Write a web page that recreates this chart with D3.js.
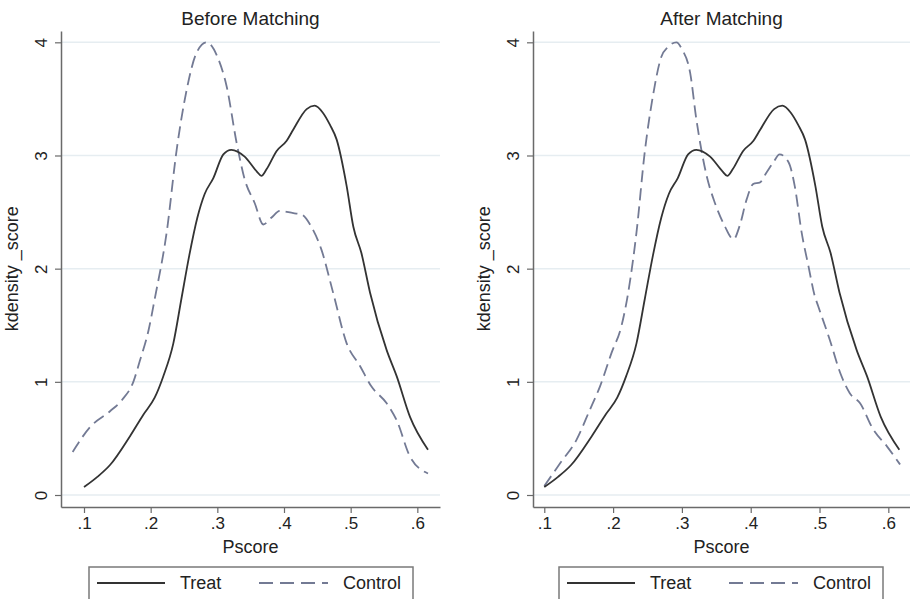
<!DOCTYPE html>
<html>
<head>
<meta charset="utf-8">
<script src="https://cdn.jsdelivr.net/npm/d3@7"></script>
<style>
  body { margin: 0; background: #fff; }
  svg { display: block; font-family: "Liberation Sans", Arial, sans-serif; }
</style>
</head>
<body>
<svg id="chart" width="910" height="599"></svg>
<script>
// kernel density of pscore
var treatX = [0.100, 0.120, 0.139, 0.169, 0.189, 0.206, 0.219, 0.234, 0.246, 0.258, 0.270, 0.281, 0.294, 0.309, 0.321, 0.341, 0.359, 0.366, 0.374, 0.389, 0.404, 0.414, 0.434, 0.446, 0.458, 0.469, 0.479, 0.494, 0.504, 0.516, 0.529, 0.554, 0.569, 0.589, 0.616];
var treatY = [0.07, 0.16, 0.265, 0.52, 0.71, 0.86, 1.05, 1.34, 1.73, 2.12, 2.45, 2.66, 2.80, 3.01, 3.05, 2.99, 2.86, 2.82, 2.88, 3.04, 3.13, 3.23, 3.41, 3.44, 3.38, 3.27, 3.14, 2.73, 2.37, 2.14, 1.79, 1.28, 1.05, 0.69, 0.40];

var ctrlBeforeX = [0.083, 0.109, 0.139, 0.157, 0.174, 0.184, 0.197, 0.206, 0.224, 0.239, 0.254, 0.269, 0.284, 0.301, 0.314, 0.329, 0.341, 0.356, 0.369, 0.381, 0.394, 0.414, 0.426, 0.441, 0.456, 0.474, 0.494, 0.514, 0.531, 0.554, 0.569, 0.589, 0.616];
var ctrlBeforeY = [0.38, 0.60, 0.74, 0.84, 1.00, 1.19, 1.46, 1.73, 2.32, 3.05, 3.58, 3.91, 4.00, 3.86, 3.61, 3.11, 2.79, 2.58, 2.39, 2.45, 2.51, 2.49, 2.48, 2.37, 2.17, 1.78, 1.34, 1.14, 0.96, 0.81, 0.66, 0.34, 0.19];

var ctrlAfterX = [0.100, 0.123, 0.147, 0.166, 0.181, 0.198, 0.212, 0.222, 0.234, 0.246, 0.258, 0.270, 0.280, 0.292, 0.300, 0.312, 0.321, 0.336, 0.348, 0.362, 0.375, 0.384, 0.394, 0.404, 0.413, 0.423, 0.433, 0.442, 0.455, 0.464, 0.474, 0.484, 0.493, 0.498, 0.515, 0.530, 0.544, 0.559, 0.578, 0.598, 0.617];
var ctrlAfterY = [0.08, 0.28, 0.49, 0.75, 0.96, 1.26, 1.49, 1.79, 2.32, 3.03, 3.53, 3.87, 3.96, 4.00, 3.94, 3.73, 3.32, 2.82, 2.58, 2.38, 2.26, 2.38, 2.61, 2.75, 2.76, 2.85, 2.94, 3.01, 2.94, 2.73, 2.32, 2.02, 1.76, 1.67, 1.37, 1.08, 0.90, 0.81, 0.58, 0.43, 0.27];

var yTicks = [0, 1, 2, 3, 4];
var xTicks = [0.1, 0.2, 0.3, 0.4, 0.5, 0.6];
var seriesNames = ["Treat", "Control"];
var titles = ["Before Matching", "After Matching"];

var svg = d3.select("#chart");
var lineColor = "#333333", dashColor = "#737a94", axisColor = "#6a6a6a";

function zip(xs, ys) {
  return xs.map(function(x, i) { return { x: x, y: ys[i] }; });
}

var panels = [
  { title: titles[0], left: 61, right: 440, xDom: [0.0655, 0.634], control: zip(ctrlBeforeX, ctrlBeforeY), legendX: 89 },
  { title: titles[1], left: 533, right: 910, xDom: [0.0836, 0.6315], control: zip(ctrlAfterX, ctrlAfterY), legendX: 559 }
];
var treat = zip(treatX, treatY);

panels.forEach(function(p) {
  var g = svg.append("g");
  var x = d3.scaleLinear().domain(p.xDom).range([p.left, p.right]);
  var y = d3.scaleLinear().domain([-0.106, 4.1]).range([507, 31]);

  // grid lines
  g.selectAll(".grid").data(yTicks).enter().append("line")
    .attr("x1", p.left).attr("x2", p.right)
    .attr("y1", function(d) { return y(d); })
    .attr("y2", function(d) { return y(d); })
    .attr("stroke", "#e6edf1")
    .attr("stroke-width", 1.5);

  // y axis
  var ya = g.append("g")
    .attr("transform", "translate(" + p.left + ",0)")
    .call(d3.axisLeft(y).tickValues(yTicks).tickSize(6).tickSizeOuter(0)
      .tickFormat(d3.format("d")));
  ya.select(".domain").attr("stroke", axisColor).attr("stroke-width", 1.5);
  ya.selectAll(".tick line").attr("stroke", axisColor).attr("stroke-width", 1.2);
  ya.selectAll(".tick text")
    .attr("font-size", 17)
    .attr("font-family", "Liberation Sans, Arial, sans-serif")
    .attr("fill", "#222")
    .attr("text-anchor", "middle")
    .attr("dy", 0)
    .attr("x", 0)
    .attr("transform", "translate(-20,0) rotate(-90)")
    .attr("y", 6);

  // x axis
  var xa = g.append("g")
    .attr("transform", "translate(0,507)")
    .call(d3.axisBottom(x).tickValues(xTicks).tickSize(6).tickPadding(4).tickSizeOuter(0)
      .tickFormat(function(d) { return d3.format(".1f")(d).replace(/^0/, ""); }));
  xa.select(".domain").attr("stroke", axisColor).attr("stroke-width", 1.5);
  xa.selectAll(".tick line").attr("stroke", axisColor).attr("stroke-width", 1.2);
  xa.selectAll(".tick text")
    .attr("font-size", 17)
    .attr("font-family", "Liberation Sans, Arial, sans-serif")
    .attr("fill", "#222");

  // labels
  var mid = (p.left + p.right) / 2;
  g.append("text")
    .attr("x", mid).attr("y", 25)
    .attr("text-anchor", "middle")
    .attr("font-size", 19)
    .attr("fill", "#222")
    .text(p.title);
  g.append("text")
    .attr("x", mid).attr("y", 553)
    .attr("text-anchor", "middle")
    .attr("font-size", 18)
    .attr("fill", "#222")
    .text("Pscore");
  g.append("text")
    .attr("transform", "translate(" + (p.left - 43) + "," + y(2) + ") rotate(-90)")
    .attr("text-anchor", "middle")
    .attr("font-size", 18)
    .attr("fill", "#222")
    .text("kdensity _score");

  // curves
  var line = d3.line()
    .x(function(d) { return x(d.x); })
    .y(function(d) { return y(d.y); })
    .curve(d3.curveMonotoneX);

  g.append("path")
    .datum(p.control)
    .attr("d", line)
    .attr("fill", "none")
    .attr("stroke", dashColor)
    .attr("stroke-width", 1.8)
    .attr("stroke-dasharray", "12,6");

  g.append("path")
    .datum(treat)
    .attr("d", line)
    .attr("fill", "none")
    .attr("stroke", lineColor)
    .attr("stroke-width", 1.8);

  // legend
  var lg = g.append("g").attr("transform", "translate(" + p.legendX + ",567)");
  lg.append("rect")
    .attr("x", 0).attr("y", 0)
    .attr("width", 324).attr("height", 40)
    .attr("fill", "#fff")
    .attr("stroke", "#7a7a7a")
    .attr("stroke-width", 1.5);
  lg.append("line")
    .attr("x1", 8).attr("x2", 76).attr("y1", 16).attr("y2", 16)
    .attr("stroke", lineColor).attr("stroke-width", 1.8);
  lg.append("text")
    .attr("x", 91).attr("y", 22)
    .attr("font-size", 18).attr("fill", "#222")
    .text(seriesNames[0]);
  lg.append("line")
    .attr("x1", 170).attr("x2", 239).attr("y1", 16).attr("y2", 16)
    .attr("stroke", dashColor).attr("stroke-width", 1.8)
    .attr("stroke-dasharray", "14,7");
  lg.append("text")
    .attr("x", 254).attr("y", 22)
    .attr("font-size", 18).attr("fill", "#222")
    .text(seriesNames[1]);
});
</script>
</body>
</html>
